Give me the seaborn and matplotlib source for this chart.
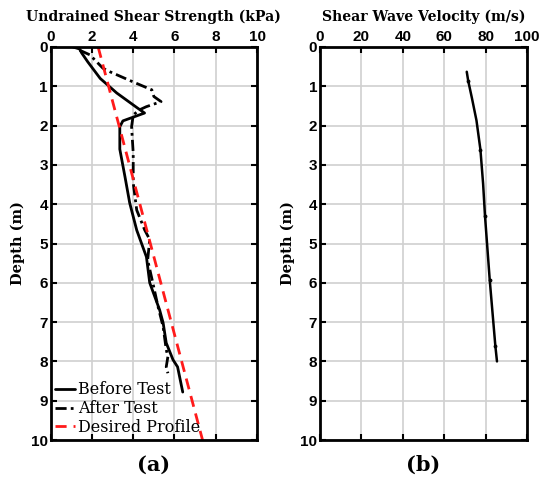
import matplotlib
matplotlib.use("Agg")
import matplotlib.pyplot as plt
import seaborn as sns
import pandas as pd

# Data
before_su = [1.08, 1.4, 1.5, 1.8, 2.4, 3.2, 4.2, 4.55, 3.5, 3.35, 3.35, 3.6, 3.83, 4.17, 4.64, 4.8, 5.28, 5.45, 5.6, 5.93, 6.15, 6.4]
before_z = [0.0, 0.05, 0.15, 0.38, 0.8, 1.17, 1.55, 1.68, 1.88, 2.03, 2.6, 3.3, 3.97, 4.66, 5.34, 6.0, 6.69, 7.02, 7.53, 7.96, 8.14, 8.78]

after_su = [1.4, 1.9, 2.53, 2.87, 4.0, 4.9, 5.0, 5.35, 4.63, 4.3, 4.0, 3.92, 4.0, 4.0, 4.17, 4.56, 4.8, 4.7, 4.95, 5.2, 5.45, 5.6, 5.68, 5.6, 5.68]
after_z = [0.08, 0.2, 0.54, 0.63, 0.89, 1.09, 1.26, 1.39, 1.52, 1.6, 1.73, 2.03, 2.7, 3.46, 4.15, 4.66, 4.9, 5.42, 6.0, 6.6, 7.12, 7.7, 7.88, 8.14, 8.3]

desired_su = [2.3, 7.36]
desired_z = [0.0, 10.0]

vs = [70.9, 71.6, 73.4, 75.6, 77.5, 78.8, 79.7, 82.0, 84.7, 85.5]
vs_z = [0.63, 0.86, 1.3, 1.87, 2.61, 3.48, 4.29, 5.93, 7.6, 8.0]
vs_marked = [1, 4, 6, 7, 8]

sns.set_theme(style="white")
plt.rcParams['font.family'] = ['DejaVu Sans']
for k in ['text.color', 'axes.labelcolor', 'xtick.color', 'ytick.color']:
    plt.rcParams[k] = 'black'

fig = plt.figure(figsize=(5.45, 4.82), dpi=100)
ax1 = fig.add_axes([0.093, 0.0871, 0.3786, 0.8154])
ax2 = fig.add_axes([0.587, 0.0871, 0.380, 0.8154])

serif = dict(family='DejaVu Serif', weight='bold')

df_b = pd.DataFrame({'su': before_su, 'z': before_z})
df_a = pd.DataFrame({'su': after_su, 'z': after_z})
df_d = pd.DataFrame({'su': desired_su, 'z': desired_z})
df_v = pd.DataFrame({'vs': vs, 'z': vs_z})

sns.lineplot(data=df_b, x='su', y='z', sort=False, estimator=None, ax=ax1,
             color='black', lw=2, label='Before Test')
sns.lineplot(data=df_a, x='su', y='z', sort=False, estimator=None, ax=ax1,
             color='black', lw=2, linestyle=(0, (4, 1.5, 1, 1.5)), label='After Test')
sns.lineplot(data=df_d, x='su', y='z', sort=False, estimator=None, ax=ax1,
             color='#ff1a1a', lw=2, linestyle=(0, (4, 2.5)), label='Desired Profile')
sns.lineplot(data=df_v, x='vs', y='z', sort=False, estimator=None, ax=ax2,
             color='black', lw=1.8, marker='.', markersize=4, markevery=vs_marked,
             markeredgecolor='black', markerfacecolor='black')

for ax, xmax, xt in [(ax1, 10, [0, 2, 4, 6, 8, 10]), (ax2, 100, [0, 20, 40, 60, 80, 100])]:
    ax.set_xlim(0, xmax)
    ax.set_ylim(10, 0)
    ax.set_xticks(xt)
    ax.set_yticks(range(0, 11))
    ax.xaxis.tick_top()
    ax.tick_params(axis='both', which='both', direction='in', length=4, width=1.5,
                   top=True, bottom=True, left=True, right=True, labelsize=11, pad=2)
    for lab in ax.get_xticklabels() + ax.get_yticklabels():
        lab.set_fontweight('bold')
        lab.set_family('Liberation Sans')
    ax.grid(True, color='#d0d0d0', lw=1.2)
    for s in ax.spines.values():
        s.set_visible(True)
        s.set_color('black')
        s.set_linewidth(2)
    ax.set_xlabel('')
    ax.set_ylabel('Depth (m)', fontsize=10.5, labelpad=4, **serif)

ax1.set_title('Undrained Shear Strength (kPa)', fontsize=10.1, pad=19, **serif)
ax2.set_title('Shear Wave Velocity (m/s)', fontsize=10.1, pad=19, **serif)

leg = ax1.legend(loc='lower left', frameon=False, prop=dict(family='DejaVu Serif', size=11.5),
                 handlelength=1.3, handletextpad=0.15, borderaxespad=0.15, labelspacing=0.12,
                 borderpad=0.1)

fig.text(0.093 + 0.3786 / 2, 0.035, '(a)', ha='center', va='center', fontsize=15, **serif)
fig.text(0.587 + 0.380 / 2, 0.035, '(b)', ha='center', va='center', fontsize=15, **serif)

fig.savefig('out.png', dpi=100)
